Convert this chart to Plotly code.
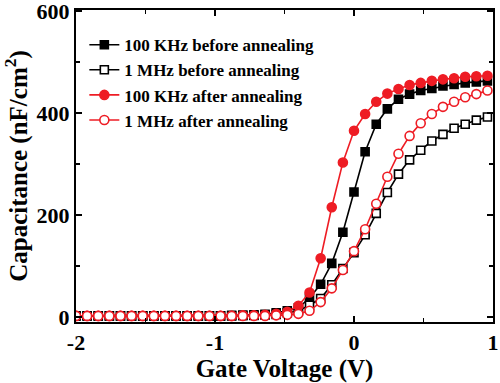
import plotly.graph_objects as go

gate_voltage = [-2.00, -1.92, -1.84, -1.76, -1.68, -1.60, -1.52, -1.44, -1.36, -1.28,
                -1.20, -1.12, -1.04, -0.96, -0.88, -0.80, -0.72, -0.64, -0.56, -0.48,
                -0.40, -0.32, -0.24, -0.16, -0.08, 0.00, 0.08, 0.16, 0.24, 0.32,
                0.40, 0.48, 0.56, 0.64, 0.72, 0.80, 0.88, 0.96]

khz100_before = [2, 2, 2, 2, 2, 2, 2, 2, 2, 2, 2, 2, 2, 2, 3, 3, 4, 5, 8, 12,
                 18, 37, 64, 105, 166, 245, 324, 378, 408, 427, 437, 444, 448, 453, 456, 459, 461, 463]
mhz1_before = [2, 2, 2, 2, 2, 2, 2, 2, 2, 2, 2, 2, 2, 2, 2, 3, 3, 4, 5, 8,
               12, 23, 36, 63, 95, 126, 161, 203, 244, 280, 308, 327, 345, 358, 370, 378, 386, 392]
khz100_after = [2, 2, 2, 2, 2, 2, 2, 2, 2, 2, 2, 2, 2, 2, 2, 3, 3, 4, 6, 10,
                22, 48, 115, 215, 303, 365, 398, 422, 438, 447, 455, 459, 463, 466, 468, 471, 472, 473]
mhz1_after = [2, 2, 2, 2, 2, 2, 2, 2, 2, 2, 2, 2, 2, 2, 2, 2, 2, 2, 3, 4,
              6, 12, 29, 56, 92, 129, 172, 222, 275, 320, 355, 380, 398, 412, 422, 431, 437, 444]

series_names = ["100 KHz before annealing", "1 MHz before annealing",
                "100 KHz after annealing", "1 MHz after annealing"]

x_tick_labels = ["-2", "-1", "0", "1"]
y_tick_labels = ["0", "200", "400", "600"]

RED = "#ee1c24"
BLACK = "#000000"

fig = go.Figure()
styles = [
    (khz100_before, BLACK, "square", BLACK, 8),
    (mhz1_before, BLACK, "square", "white", 8),
    (khz100_after, RED, "circle", RED, 9),
    (mhz1_after, RED, "circle", "white", 9),
]
for name, (vals, col, sym, fill, sz) in zip(series_names, styles):
    fig.add_trace(go.Scatter(
        x=gate_voltage, y=vals, mode="lines+markers", name=name,
        line=dict(color=col, width=1.6),
        marker=dict(symbol=sym, size=sz, color=fill, line=dict(color=col, width=1.6)),
    ))

font_family = "Liberation Serif"
fig.update_layout(
    width=500, height=383, autosize=False,
    margin=dict(l=76, r=7, t=10, b=61, autoexpand=False),
    paper_bgcolor="white", plot_bgcolor="white",
    font=dict(family=font_family, color="black"),
    showlegend=True,
    legend=dict(
        x=0.02, y=0.945, xanchor="left", yanchor="top",
        bgcolor="rgba(0,0,0,0)", borderwidth=0,
        font=dict(family=font_family, size=17, color="black", weight="bold"),
        tracegroupgap=0, itemwidth=30,
    ),
    xaxis=dict(
        range=[-2, 1], tickvals=[-2, -1, 0, 1], ticktext=x_tick_labels,
        ticks="inside", ticklen=6, tickwidth=1.5, tickcolor="black",
        minor=dict(tickvals=[-1.5, -0.5, 0.5], ticks="inside", ticklen=4, tickwidth=1.5, tickcolor="black"),
        showline=True, linewidth=2, linecolor="black", mirror="allticks",
        showgrid=False, zeroline=False, automargin=False, ticklabeloverflow="allow",
        tickfont=dict(family=font_family, size=22, weight="bold"),
        title=dict(text="Gate Voltage (V)", font=dict(family=font_family, size=25, weight="bold"), standoff=6),
    ),
    yaxis=dict(
        range=[-10, 602], tickvals=[0, 200, 400, 600], ticktext=y_tick_labels,
        ticks="inside", ticklen=6, tickwidth=1.5, tickcolor="black",
        minor=dict(tickvals=[100, 300, 500], ticks="inside", ticklen=4, tickwidth=1.5, tickcolor="black"),
        showline=True, linewidth=2, linecolor="black", mirror="allticks",
        showgrid=False, zeroline=False, automargin=False, ticklabeloverflow="allow",
        tickfont=dict(family=font_family, size=22, weight="bold"),
        title=dict(text="Capacitance (nF/cm<sup>2</sup>)", font=dict(family=font_family, size=25, weight="bold"), standoff=4),
    ),
)

fig.write_html("out.html", config={"displayModeBar": False, "staticPlot": True},
               post_script="document.body.style.margin='0';")
